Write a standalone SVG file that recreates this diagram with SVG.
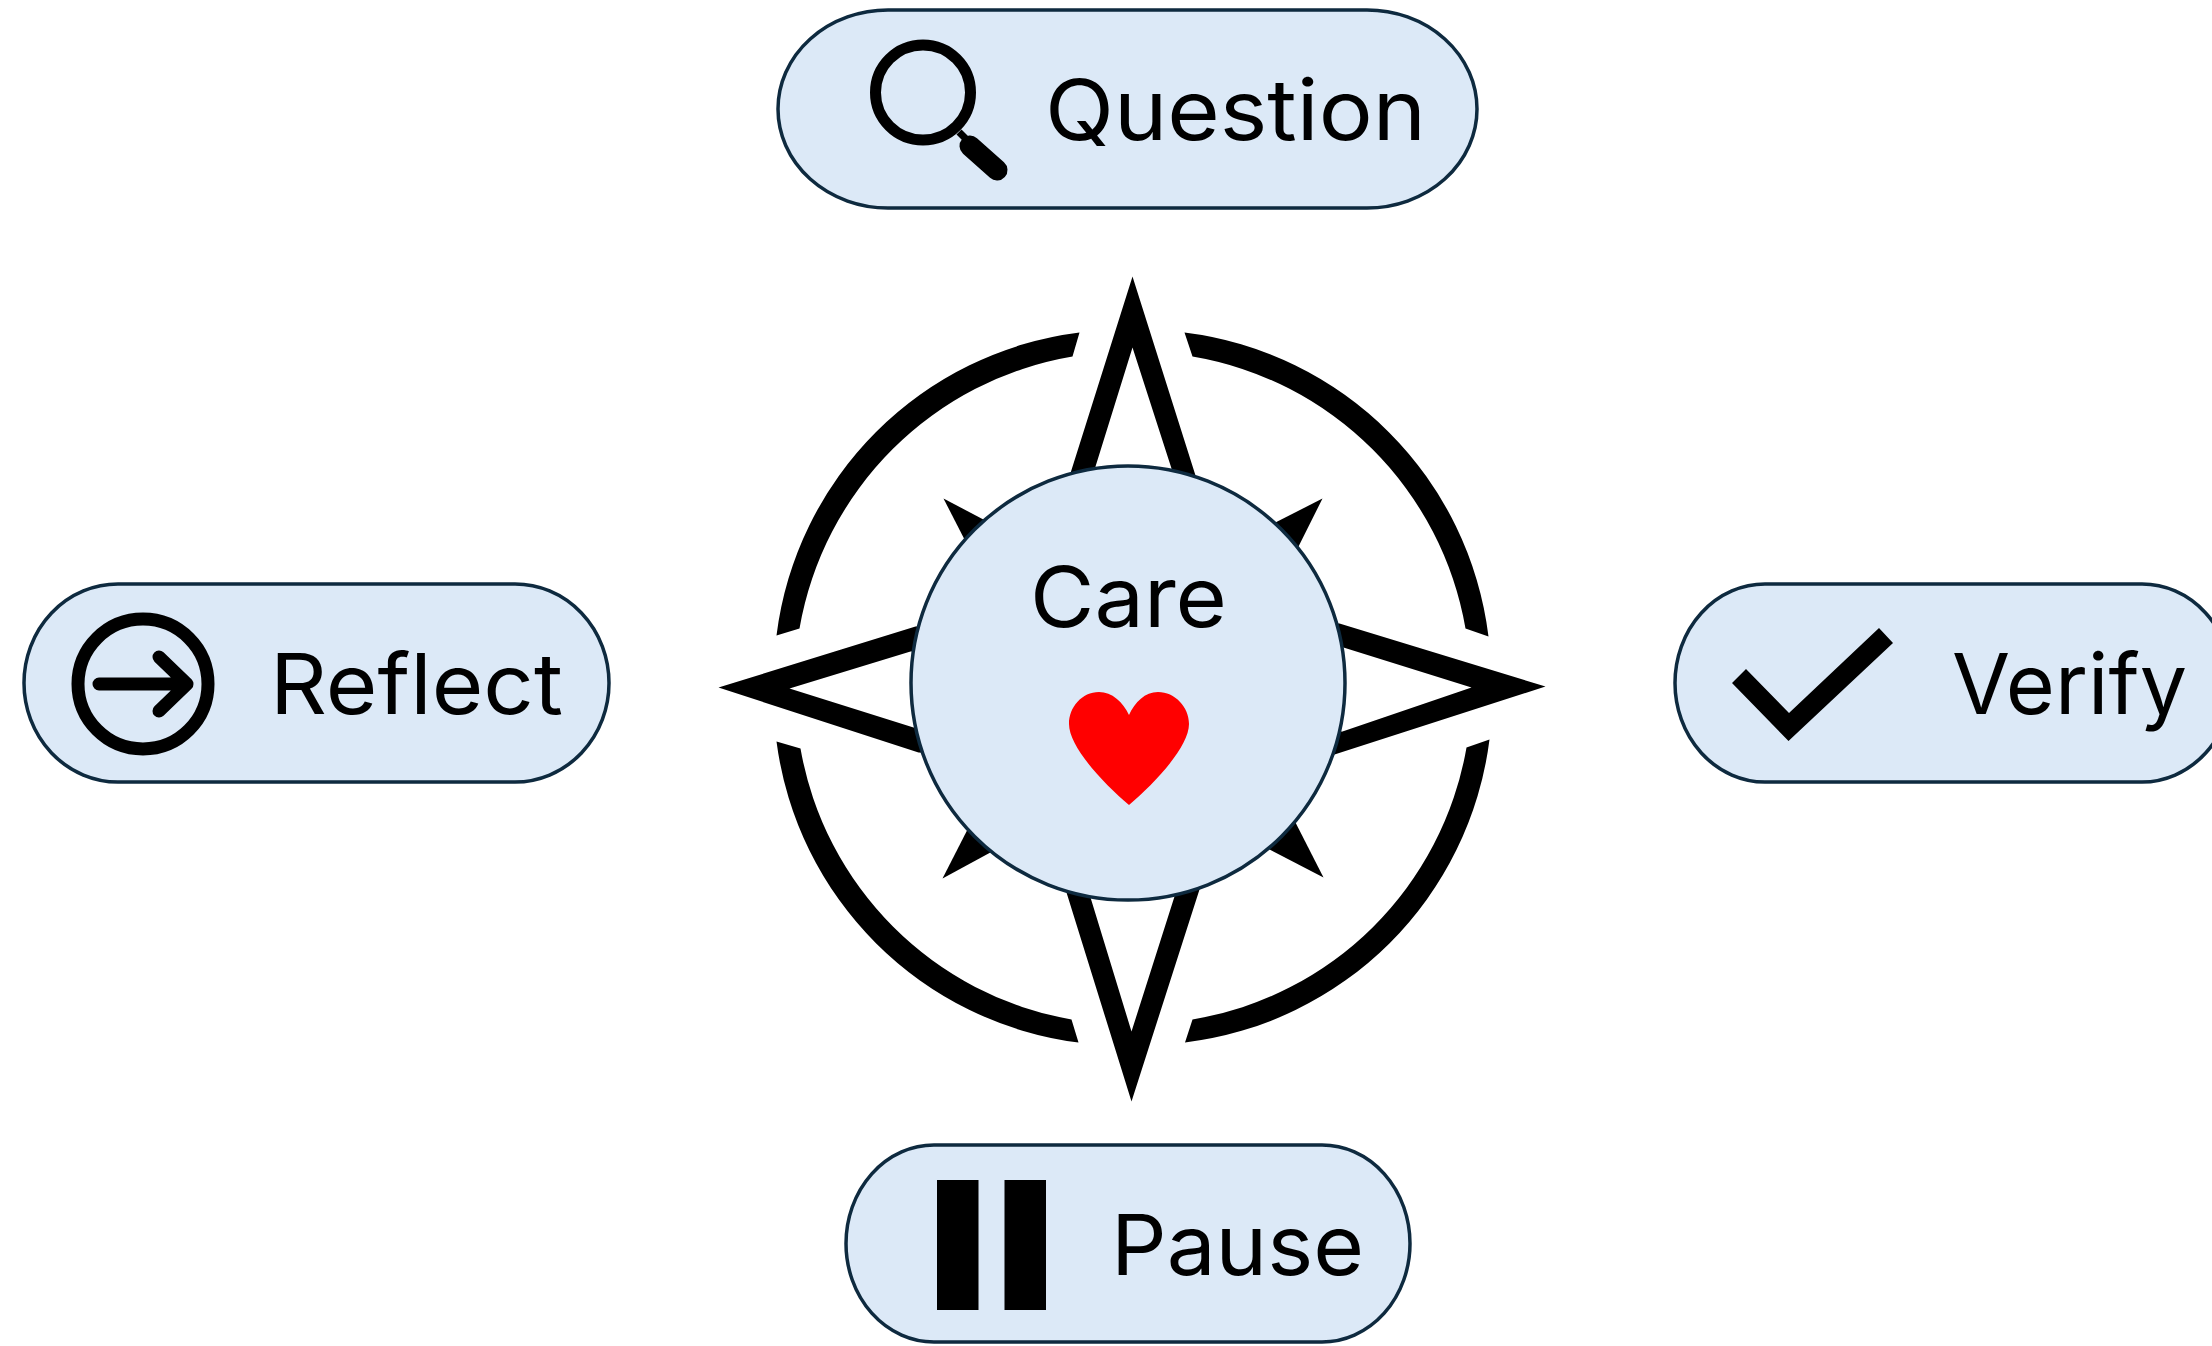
<svg xmlns="http://www.w3.org/2000/svg" width="2212" height="1346" viewBox="0 0 2212 1346">
<style>
.box{fill:#dce9f7;stroke:#0e2a3f;stroke-width:3.5}
.lbl{font-family:"Inter","Liberation Sans",sans-serif;font-size:84px;fill:#000}
.ink{fill:#000}
.arrow{fill:none;stroke:#000;stroke-width:13;stroke-linecap:round;stroke-linejoin:round}
</style>
<rect width="2212" height="1346" fill="#fff"/>
<g id="compass" transform="translate(-1.500 -0.500)">
<path class="ink" d="M1081 333A349 349 0 0 0 778 636L801 629A333.500 333.500 0 0 1 1074 357Z"/>
<path class="ink" d="M1186 333A349 349 0 0 1 1490 637L1467 629A333.500 333.500 0 0 0 1194 357Z"/>
<path class="ink" d="M778 742A349 349 0 0 0 1080 1043L1073 1020A333.500 333.500 0 0 1 802 749Z"/>
<path class="ink" d="M1491 740A349 349 0 0 1 1186.500 1043L1194 1020A333.500 333.500 0 0 0 1468 748Z"/>
<path class="ink" fill-rule="evenodd" d="M1134 277L1197 476L1200 520L1070 520L1072.500 472ZM1134 348L1097 467L1097 510L1173 510L1173 469Z"/>
<path class="ink" fill-rule="evenodd" d="M1133 1102L1068 893L1064 850L1205 850L1201 890ZM1133 1032L1092 898L1092 860L1176 860L1176 897Z"/>
<path class="ink" fill-rule="evenodd" d="M720 688L917 627L960 625L960 755L920 753ZM791 689L912 652L950 650L950 730L915 728Z"/>
<path class="ink" fill-rule="evenodd" d="M1547 687L1341 624L1300 622L1300 757L1336 755ZM1473 688L1345 648L1310 646L1310 734L1344 732Z"/>
<path class="ink" d="M945 499L1021 539L985 577Z"/>
<path class="ink" d="M1324 499L1230 547L1276 595Z"/>
<path class="ink" d="M944 879L1040 827L992 785Z"/>
<path class="ink" d="M1325 878L1217 822L1269 768Z"/>
</g>
<g id="care">
<circle class="box" cx="1128" cy="683" r="217"/>
<text class="lbl" x="1030" y="627" textLength="197" lengthAdjust="spacingAndGlyphs">Care</text>
<path fill="#f00" d="M1129 805C1104 784 1069 747 1069 724C1069 707 1082 692 1099 692C1112 692 1123 702 1129 715C1135 702 1145 692 1158 692C1175 692 1189 707 1189 724C1189 747 1154 784 1129 805Z"/>
</g>
<g id="question">
<rect class="box" x="778" y="10" width="699" height="198" rx="110" ry="99"/>
<circle cx="923" cy="92.500" r="47.500" fill="none" stroke="#000" stroke-width="11"/>
<path d="M959 132L973 146" stroke="#000" stroke-width="7" fill="none"/>
<path d="M970 146L997 170" stroke="#000" stroke-width="21" stroke-linecap="round" fill="none"/>
<text class="lbl" x="1045" y="140" textLength="381" lengthAdjust="spacingAndGlyphs">Question</text>
</g>
<g id="reflect">
<rect class="box" x="24" y="584" width="585" height="198" rx="94" ry="99"/>
<circle cx="143" cy="684" r="65" fill="none" stroke="#000" stroke-width="13"/>
<path class="arrow" d="M99 684H187M159 657L187 684L159 711"/>
<text class="lbl" x="270" y="714" textLength="293" lengthAdjust="spacingAndGlyphs">Reflect</text>
</g>
<g id="verify">
<rect class="box" x="1675" y="584" width="557" height="198" rx="90" ry="99"/>
<path class="ink" d="M1732 683L1746 669L1789 713L1879 628L1893 643L1788.500 741Z"/>
<text class="lbl" x="1952" y="714" textLength="235" lengthAdjust="spacingAndGlyphs">Verify</text>
</g>
<g id="pause">
<rect class="box" x="846" y="1145" width="564" height="197" rx="88" ry="98.500"/>
<rect class="ink" x="937" y="1180" width="41.500" height="130"/>
<rect class="ink" x="1004.500" y="1180" width="41.500" height="130"/>
<text class="lbl" x="1111" y="1275" textLength="253" lengthAdjust="spacingAndGlyphs">Pause</text>
</g>
</svg>
